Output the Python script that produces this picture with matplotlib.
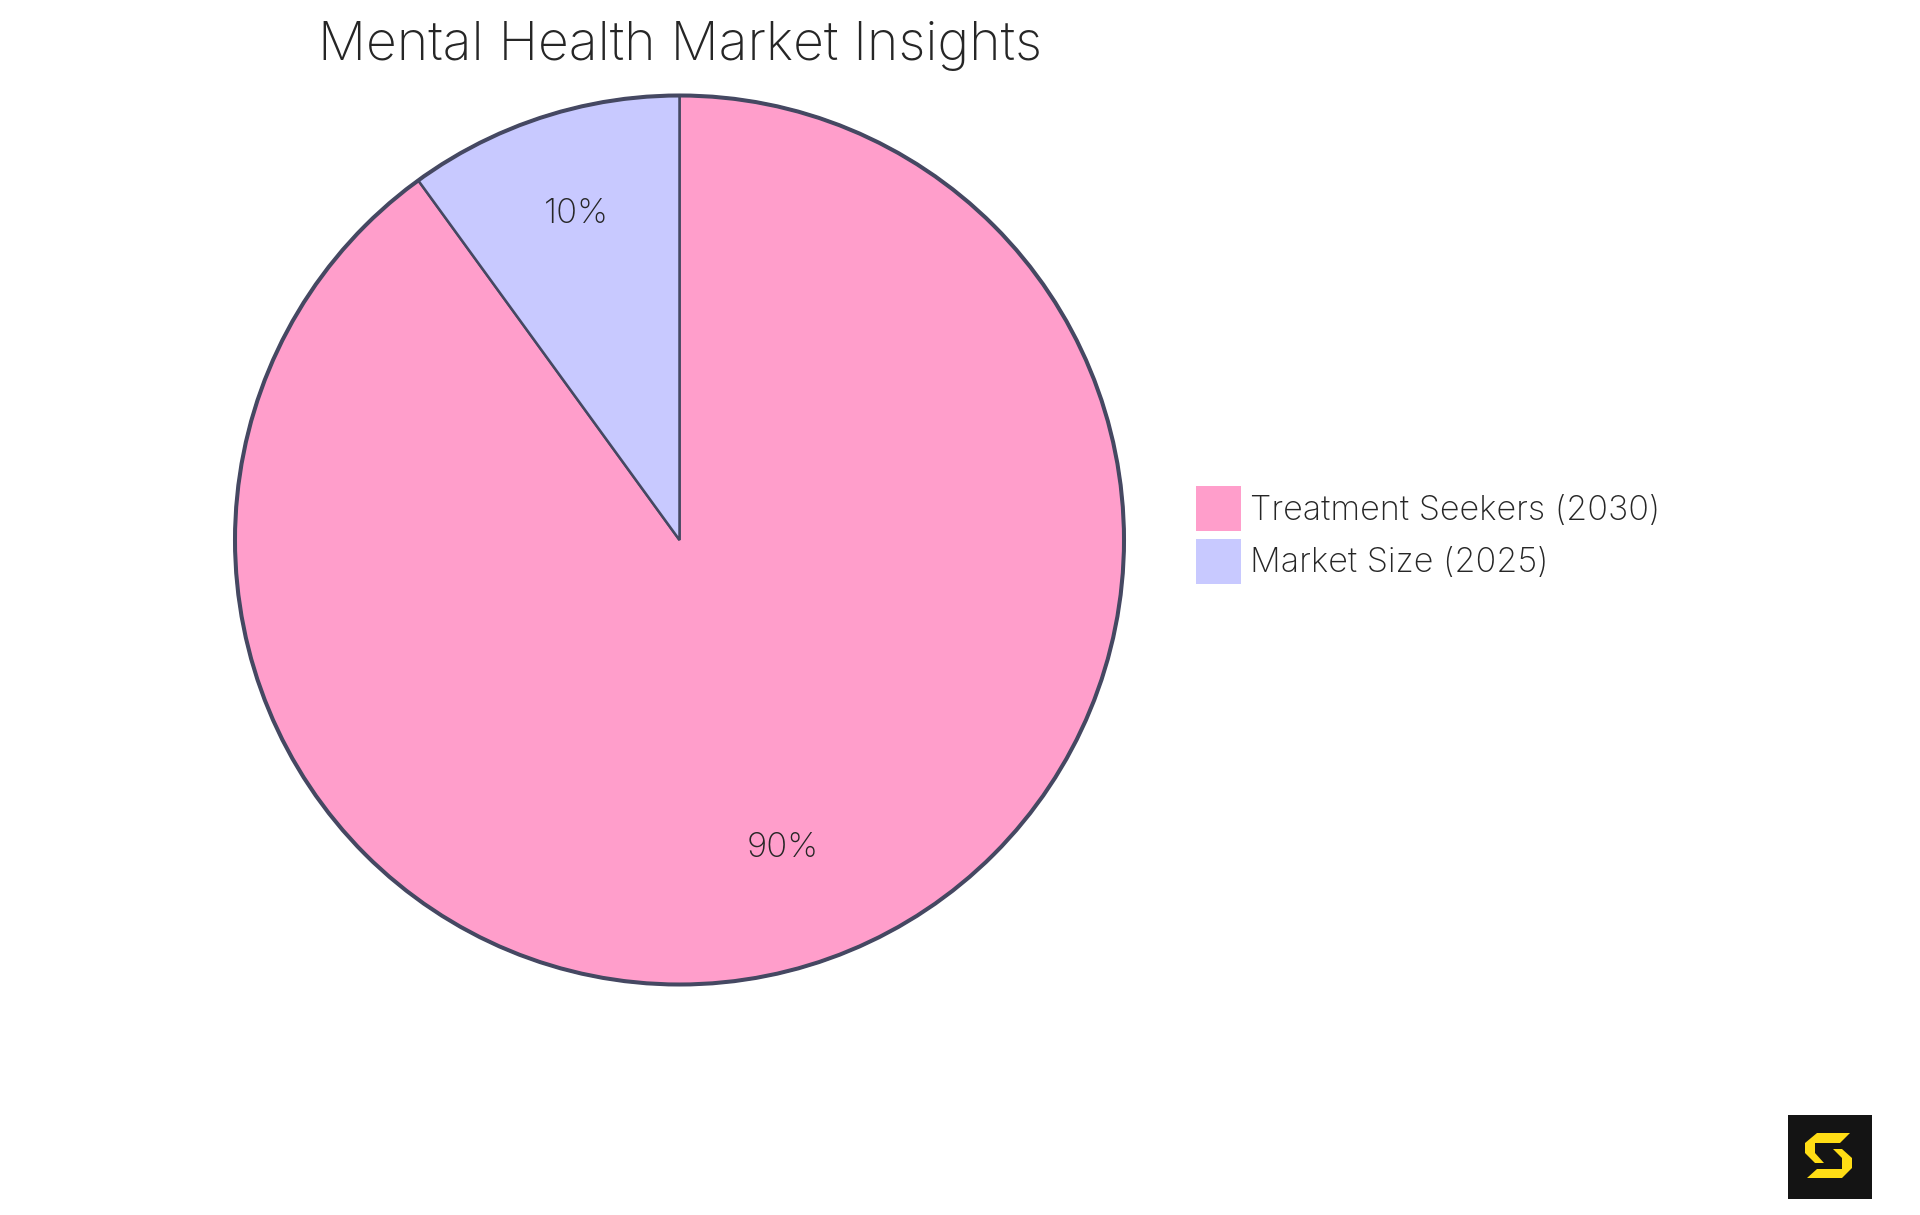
import matplotlib
matplotlib.use("Agg")
import matplotlib.pyplot as plt
from matplotlib.patches import Circle, Patch, Polygon, Rectangle

W, H = 1920, 1215

labels = ["Treatment Seekers (2030)", "Market Size (2025)"]
values = [90, 10]
colors = ["#FF9ECB", "#C8C9FF"]
edge = "#454862"
text_col = "#262626"

plt.rcParams["font.family"] = ["Inter", "DejaVu Sans"]
plt.rcParams["font.weight"] = "light"

fig = plt.figure(figsize=(W / 100, H / 100), dpi=100)

# pie axes, placed in pixels
cx, cy, R = 679.5, 540, 444.5
ax = fig.add_axes([(cx - R) / W, 1 - (cy + R) / H, 2 * R / W, 2 * R / H])
wedges, _, autotexts = ax.pie(
    values, colors=colors, startangle=90, counterclock=False, radius=1,
    autopct="%d%%", pctdistance=0.75,
    wedgeprops={"edgecolor": edge, "linewidth": 1.8},
    textprops={"fontsize": 25, "color": text_col},
)
ax.add_patch(Circle((0, 0), 1, fill=False, edgecolor=edge, linewidth=2.9))
ax.set_xlim(-1, 1)
ax.set_ylim(-1, 1)
ax.set_aspect("equal")
for p in ax.patches:
    p.set_clip_on(False)
# labels sit a little above the matplotlib centre
for t in autotexts:
    t.set_y(t.get_position()[1] + 8.6 / R)

fig.text(cx / W, 1 - 60 / H, "Mental Health Market Insights", ha="center", va="baseline",
         fontsize=38.5, color=text_col)

fs = 24.6
handles = [Patch(facecolor=c, edgecolor="none") for c in colors]
fig.legend(handles, labels, loc="upper left", bbox_to_anchor=(1196 / W, 1 - 486 / H),
           frameon=False, fontsize=fs, labelcolor=text_col, borderpad=0, borderaxespad=0,
           handlelength=1.317, handleheight=1.649, handletextpad=0.25, labelspacing=0.224)

# logo in the corner
logo = fig.add_axes([1788 / W, 1 - 1199 / H, 84 / W, 84 / H])
logo.set_xlim(0, 84)
logo.set_ylim(84, 0)
logo.axis("off")
logo.add_patch(Rectangle((0, 0), 84, 84, facecolor="#141414", edgecolor="none"))
top_part = [(62, 18), (29, 18), (17, 28), (17, 38), (27, 48), (36, 48), (27, 38), (27, 28), (52, 28)]
low_part = [(45, 34), (54, 34), (64, 43), (64, 53), (54, 63), (19, 63), (29, 54), (54, 54), (54, 43)]
logo.add_patch(Polygon(top_part, facecolor="#FFDD15", edgecolor="none"))
logo.add_patch(Polygon(low_part, facecolor="#FFDD15", edgecolor="none"))

fig.savefig("out.png", dpi=100, facecolor="white")
